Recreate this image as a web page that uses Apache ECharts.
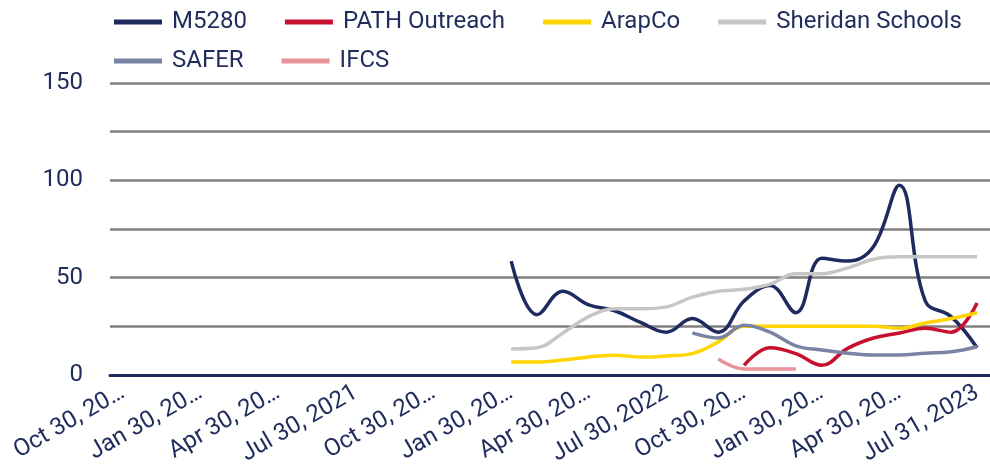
<!DOCTYPE html>
<html>
<head>
<meta charset="utf-8">
<script src="https://cdn.jsdelivr.net/npm/echarts@6/dist/echarts.min.js"></script>
<style>
  html, body { margin: 0; padding: 0; background: #fff; }
  #chart { width: 990px; height: 471px; }
</style>
</head>
<body>
<div id="chart"></div>
<script>
// monthly points, Oct 2020 .. Jul 2023
const months = [
  '2020-10', '2020-11', '2020-12',
  '2021-01', '2021-02', '2021-03', '2021-04', '2021-05', '2021-06',
  '2021-07', '2021-08', '2021-09', '2021-10', '2021-11', '2021-12',
  '2022-01', '2022-02', '2022-03', '2022-04', '2022-05', '2022-06',
  '2022-07', '2022-08', '2022-09', '2022-10', '2022-11', '2022-12',
  '2023-01', '2023-02', '2023-03', '2023-04', '2023-05', '2023-06', '2023-07'
];

// shown on every third month
const tickLabels = [
  'Oct 30, 20…', 'Jan 30, 20…', 'Apr 30, 20…', 'Jul 30, 2021',
  'Oct 30, 20…', 'Jan 30, 20…', 'Apr 30, 20…', 'Jul 30, 2022',
  'Oct 30, 20…', 'Jan 30, 20…', 'Apr 30, 20…', 'Jul 31, 2023'
];

const _ = null;
const m5280 = [_, _, _, _, _, _, _, _, _, _, _, _, _, _, _,
  58.5, 31, 43, 36, 33, 27, 22, 29, 22, 38, 46, 32, 60, 58.5, 66, 97.5, 38, 30, 14];
const pathOutreach = [_, _, _, _, _, _, _, _, _, _, _, _, _, _, _,
  _, _, _, _, _, _, _, _, _, 5, 14, 11, 5, 13.7, 19, 21.6, 24, 22, 37];
const arapCo = [_, _, _, _, _, _, _, _, _, _, _, _, _, _, _,
  6.7, 6.7, 7.7, 9.3, 10.2, 9.2, 9.8, 11, 17, 25, 25, 25, 25, 25, 25, 24, 26.7, 29, 32];
const sheridan = [_, _, _, _, _, _, _, _, _, _, _, _, _, _, _,
  13.4, 14, 21.6, 30, 34, 34, 35, 40, 43, 44, 46.7, 52, 52, 55, 59.5, 60.7, 60.7, 60.7, 60.7];
const safer = [_, _, _, _, _, _, _, _, _, _, _, _, _, _, _,
  _, _, _, _, _, _, _, 21.6, 19, 25.5, 22, 15, 12.8, 11.2, 10.3, 10.3, 11.2, 11.9, 14.5];
const ifcs = [_, _, _, _, _, _, _, _, _, _, _, _, _, _, _,
  _, _, _, _, _, _, _, _, 8.2, 3.1, 3.1, 3.1, _, _, _, _, _, _, _];

const seriesDefs = [
  { name: 'M5280', data: m5280, color: '#1f2a5e' },
  { name: 'PATH Outreach', data: pathOutreach, color: '#c8102e' },
  { name: 'ArapCo', data: arapCo, color: '#ffd400' },
  { name: 'Sheridan Schools', data: sheridan, color: '#c6c6c6' },
  { name: 'SAFER', data: safer, color: '#7a83a3' },
  { name: 'IFCS', data: ifcs, color: '#e8929a' }
];

const TEXT = '#1f2c5c';
const FONT = 'Roboto';

const legendBase = {
  left: 109,
  icon: 'rect',
  itemWidth: 48,
  itemHeight: 5,
  itemGap: 38,
  textStyle: { color: TEXT, fontFamily: FONT, fontSize: 24, lineHeight: 24, padding: [0, 0, 0, 5] }
};

const chart = echarts.init(document.getElementById('chart'));
chart.setOption({
  animation: false,
  legend: [
    Object.assign({ top: 5, data: ['M5280', 'PATH Outreach', 'ArapCo', 'Sheridan Schools'] }, legendBase),
    Object.assign({ top: 44, data: ['SAFER', 'IFCS'] }, legendBase)
  ],
  grid: { left: 110, right: -4, top: 83, bottom: 96, containLabel: false },
  xAxis: {
    type: 'category',
    data: months,
    boundaryGap: true,
    axisLine: { lineStyle: { color: '#1f2a5e', width: 3 } },
    axisTick: { show: false },
    axisLabel: {
      interval: 2,
      rotate: 30,
      margin: 16,
      color: TEXT,
      fontFamily: FONT,
      fontSize: 24,
      formatter: (v, i) => tickLabels[Math.round(i / 3)] || ''
    }
  },
  yAxis: {
    type: 'value',
    min: 0,
    max: 150,
    interval: 25,
    axisLine: { show: false },
    axisTick: { show: false },
    splitLine: { lineStyle: { color: '#808080', width: 2.5 } },
    axisLabel: {
      margin: 27,
      color: TEXT,
      fontFamily: FONT,
      fontSize: 24,
      formatter: v => (v % 50 === 0 ? String(v) : '')
    }
  },
  series: seriesDefs.map(s => ({
    name: s.name,
    type: 'line',
    data: s.data,
    color: s.color,
    smooth: 0.4,
    showSymbol: false,
    connectNulls: false,
    lineStyle: { color: s.color, width: 3.5 },
    itemStyle: { color: s.color }
  }))
});
</script>
</body>
</html>
